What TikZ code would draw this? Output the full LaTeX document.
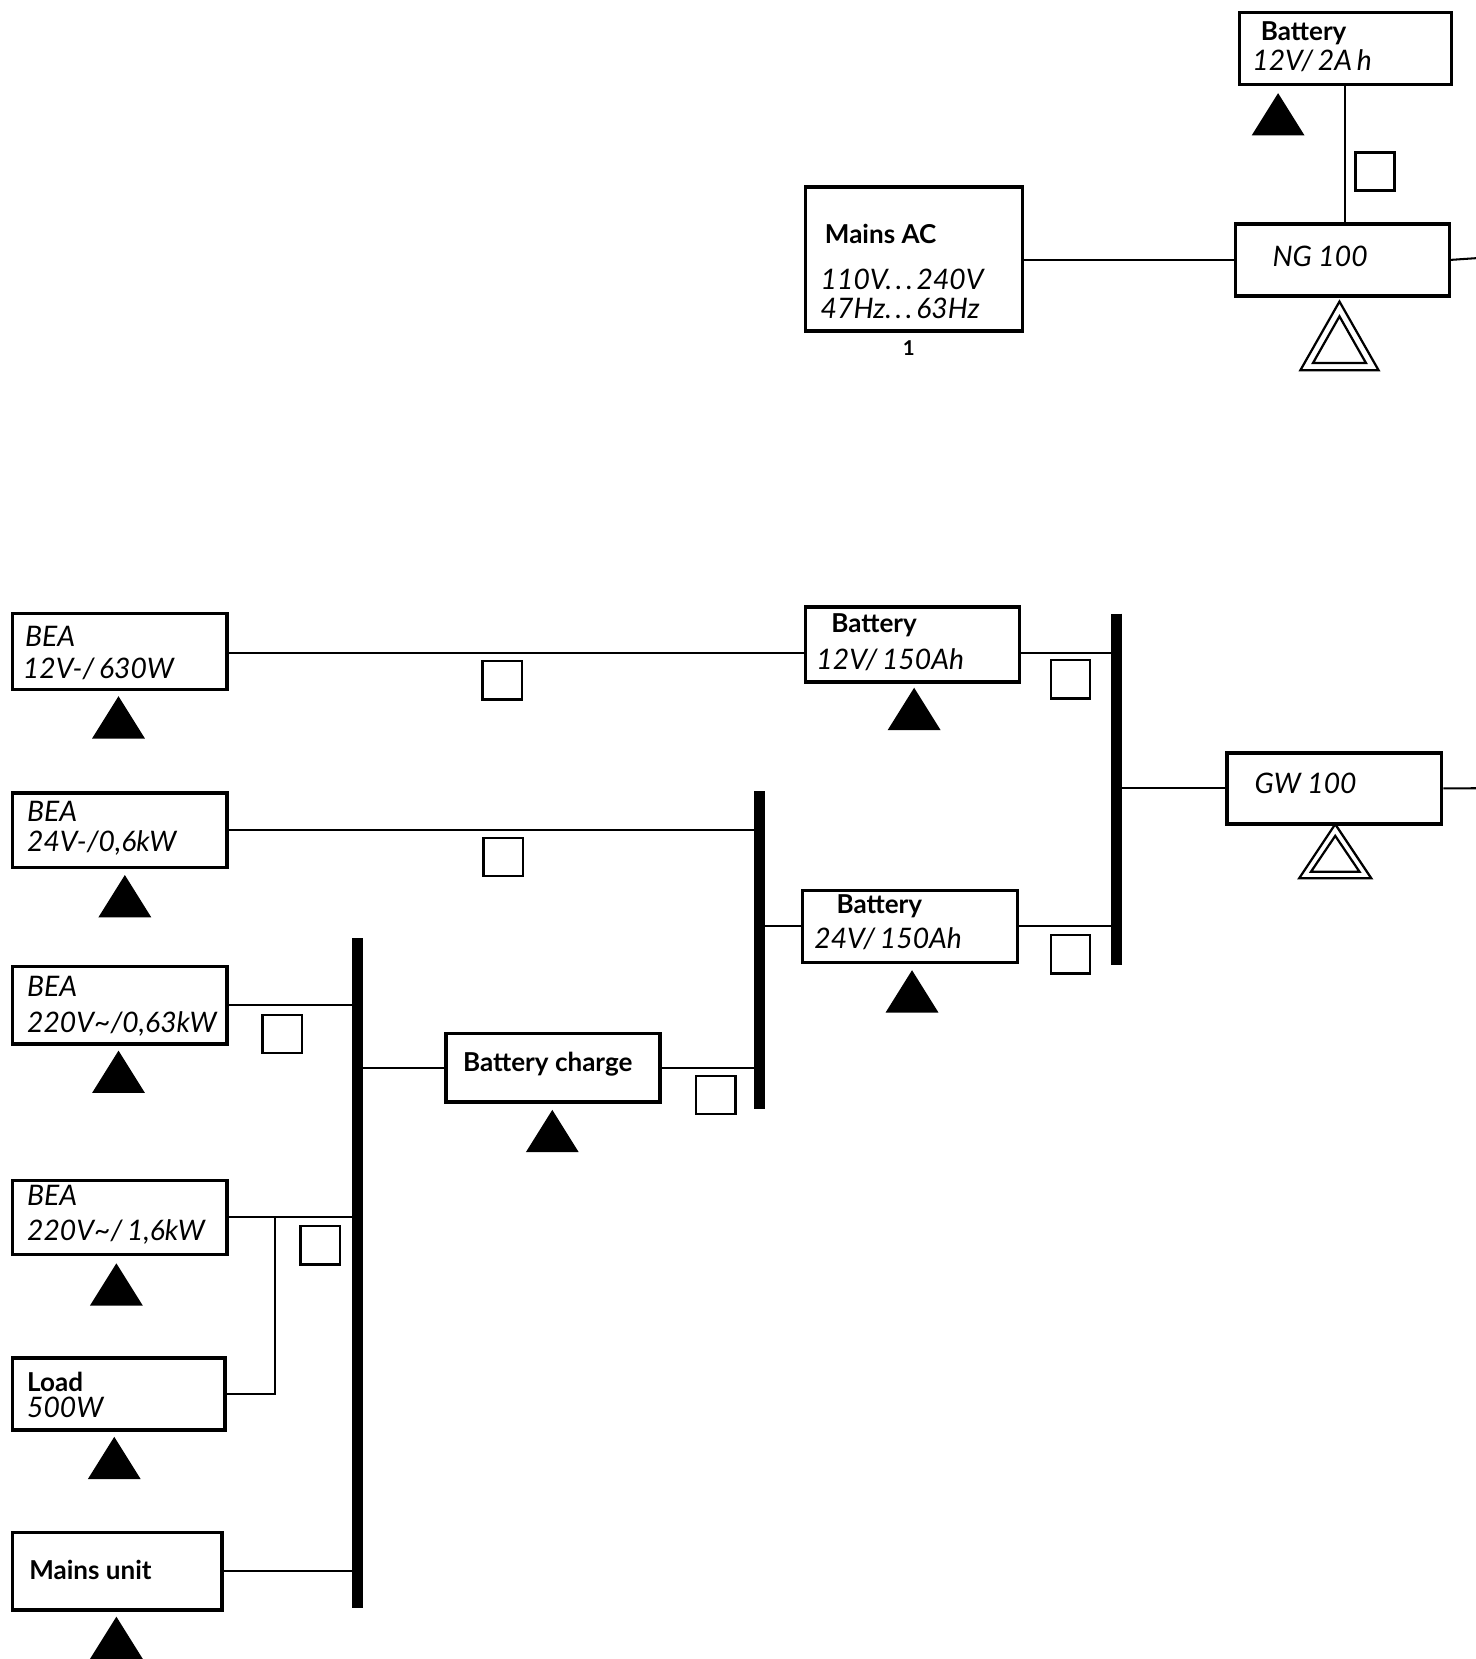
\documentclass[tikz,border=0pt]{standalone}
\usepackage{fontspec}
\setmainfont{Lato}
\tikzset{
  box/.style={draw, line width=0.9pt, inner sep=0pt, anchor=north west},
  sq/.style={draw, line width=0.6pt, inner sep=0pt, anchor=north west, minimum width=0.37cm, minimum height=0.36cm},
  wire/.style={line width=0.55pt},
  bus/.style={line width=3pt},
  lblu/.style={font=\fontsize{7}{8}\selectfont\bfseries, anchor=base west, inner sep=0pt},
  lbli/.style={font=\fontsize{7.6}{8}\selectfont\itshape, anchor=base west, inner sep=0pt},
  tri/.style={fill=black},
  dtri/.style={draw, line width=0.6pt, line join=miter}
}
\newcommand\solidtri[2]{\path[tri] (#1-25,#2+40) -- (#1,#2) -- (#1+25,#2+40) -- cycle;}
\begin{document}
\begin{tikzpicture}[x=0.01cm,y=-0.01cm]
\useasboundingbox (0,0) rectangle (1395,1568);
\fill[white] (0,0) rectangle (1395,1568);

% boxes
\node[box, minimum width=2.00cm, minimum height=0.68cm] (batt2) at (1170,10) {};
\node[box, minimum width=2.02cm, minimum height=0.68cm] (ng) at (1166,210) {};
\node[box, minimum width=2.05cm, minimum height=1.36cm] (mains) at (760,175) {};
\node[box, minimum width=2.03cm, minimum height=0.72cm] (bea1) at (10,578) {};
\node[box, minimum width=2.02cm, minimum height=0.71cm] (b12) at (760,572) {};
\node[box, minimum width=2.03cm, minimum height=0.68cm] (b24) at (757,840) {};
\node[box, minimum width=2.03cm, minimum height=0.67cm] (gw) at (1158,710) {};
\node[box, minimum width=2.03cm, minimum height=0.70cm] (bea2) at (10,748) {};
\node[box, minimum width=2.02cm, minimum height=0.65cm] (bc) at (420,975) {};
\node[box, minimum width=2.03cm, minimum height=0.73cm] (bea3) at (10,912) {};
\node[box, minimum width=2.03cm, minimum height=0.70cm] (bea4) at (10,1114) {};
\node[box, minimum width=2.01cm, minimum height=0.68cm] (load) at (10,1282) {};
\node[box, minimum width=1.98cm, minimum height=0.73cm] (mu) at (10,1447) {};

% texts
\node[lblu] (t-batt2a) at (1191,38) {Battery};
\node[lbli] (t-batt2b) at (1183,67) {12V/\,2A\,h};
\node[lblu] (t-mainsa) at (779,230) {Mains AC};
\node[lbli] (t-mainsb) at (775,274) {110V.\kern1pt.\kern1pt.\kern1pt240V};
\node[lbli] (t-mainsc) at (775,301) {47Hz.\kern1pt.\kern1pt.\kern1pt63Hz};
\node[anchor=base, inner sep=0pt, font=\fontsize{5.5}{6}\selectfont\bfseries] (t-one) at (859,336) {1};
\node[lbli] (t-ng) at (1202,252) {NG 100};
\node[lbli] (t-bea1a) at (23,611) {BEA};
\node[lbli] (t-bea1b) at (21,641) {12V-/\,630W};
\node[lblu] (t-b12a) at (785,598) {Battery};
\node[lbli] (t-b12b) at (771,633) {12V/\,150Ah};
\node[lblu] (t-b24a) at (790,863) {Battery};
\node[lbli] (t-b24b) at (769,896) {24V/\,150Ah};
\node[lbli] (t-gw) at (1185,750) {GW 100};
\node[lbli] (t-bea2a) at (25,776) {BEA};
\node[lbli] (t-bea2b) at (25,805) {24V-/0,6kW};
\node[lbli] (t-bea3a) at (25,942) {BEA};
\node[lbli] (t-bea3b) at (25,976) {220V\textasciitilde/0,63kW};
\node[lblu] (t-bc) at (437,1013) {Battery charge};
\node[lbli] (t-bea4a) at (25,1139) {BEA};
\node[lbli] (t-bea4b) at (25,1172) {220V\textasciitilde/\,1,6kW};
\node[lblu] (t-loada) at (25,1315) {Load};
\node[lbli] (t-loadb) at (25,1340) {500W};
\node[lblu] (t-mu) at (27,1493) {Mains unit};

% buses
\coordinate (bus1t) at (718,748);  \coordinate (bus1b) at (718,1048);
\coordinate (bus2t) at (1055,580); \coordinate (bus2b) at (1055,912);
\coordinate (bus3t) at (338,887);  \coordinate (bus3b) at (338,1520);
\draw[bus] (bus1t) -- (bus1b);
\draw[bus] (bus2t) -- (bus2b);
\draw[bus] (bus3t) -- (bus3b);
\coordinate (ngout) at (1395,244);
\coordinate (gwout) at (1395,745);
\coordinate (jl) at (260,0);
\coordinate (b12in) at (760,617);

% connectors
\draw[wire] (ng.west -| mains.east) -- (ng.west);
\draw[wire] (batt2.south) -- (batt2.south |- ng.north);
\draw[wire] (ng.east) -- (ngout);
\draw[wire] (bea1.east |- b12in) -- (b12in);
\draw[wire] (b12.east |- b12in) -- (b12in -| bus2t);
\draw[wire] (b24.east) -- (b24.east -| bus2t);
\draw[wire] (gw.west -| bus2t) -- (gw.west);
\draw[wire] (gw.east) -- (gwout);
\draw[wire] (bea2.east) -- (bea2.east -| bus1t);
\draw[wire] (b24.west -| bus1t) -- (b24.west);
\draw[wire] (bc.east) -- (bc.east -| bus1t);
\draw[wire] (bc.west -| bus3t) -- (bc.west);
\draw[wire] (bea3.east) -- (bea3.east -| bus3t);
\draw[wire] (bea4.east) -- (bea4.east -| bus3t);
\draw[wire] (load.east) -| (bea4.east -| jl);
\draw[wire] (mu.east) -- (mu.east -| bus3t);

% small squares
\node[sq] (s1) at (1280,143) {};
\node[sq] (s2) at (455,624) {};
\node[sq] (s3) at (992,623) {};
\node[sq] (s4) at (992,883) {};
\node[sq] (s5) at (456,791) {};
\node[sq] (s6) at (657,1016) {};
\node[sq] (s7) at (247,958) {};
\node[sq] (s8) at (283,1158) {};

% solid triangles
\solidtri{1208}{88}
\solidtri{112}{658}
\solidtri{864}{650}
\solidtri{862}{917}
\solidtri{118}{827}
\solidtri{112}{993}
\solidtri{522}{1049}
\solidtri{110}{1194}
\solidtri{108}{1358}
\solidtri{110}{1528}

% double triangles
\draw[dtri] (1229,350) -- (1266,285) -- (1303,350) -- cycle;
\draw[dtri] (1241,343) -- (1266,299) -- (1291,343) -- cycle;
\draw[dtri] (1228,830) -- (1262,779) -- (1296,830) -- cycle;
\draw[dtri] (1239,824) -- (1262,790) -- (1285,824) -- cycle;
\end{tikzpicture}
\end{document}
